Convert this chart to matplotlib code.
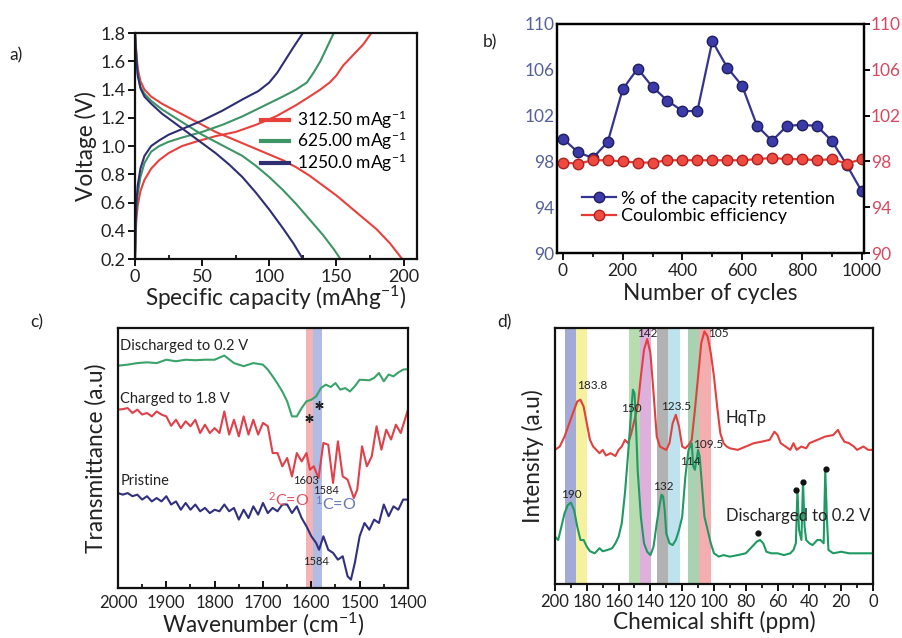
import matplotlib
matplotlib.use("Agg")
import matplotlib.pyplot as plt
import numpy as np

plt.rcParams['font.family'] = ['Lato', 'DejaVu Sans']
plt.rcParams['mathtext.fontset'] = 'custom'
plt.rcParams['mathtext.rm'] = 'Lato'
plt.rcParams['mathtext.it'] = 'Lato:italic'

# ---------------- Panel a data ----------------
rate_labels = ["312.50 mAg$^{-1}$", "625.00 mAg$^{-1}$", "1250.0 mAg$^{-1}$"]
rate_colors = ["#e8413c", "#3d9466", "#2e2e72"]

red_dis_cap = [0, 1, 2, 4, 7, 12, 20, 30, 40, 50, 60, 70, 80, 90, 100, 110, 120, 130, 140, 150, 160, 170, 180, 190, 199]
red_dis_v = [1.8, 1.66, 1.55, 1.46, 1.40, 1.35, 1.30, 1.25, 1.20, 1.15, 1.10, 1.06, 1.02, 0.98, 0.94, 0.90, 0.85, 0.79, 0.72, 0.65, 0.57, 0.49, 0.41, 0.31, 0.2]
red_ch_cap = [0, 0.5, 1, 2, 4, 7, 12, 18, 25, 35, 45, 60, 75, 90, 105, 120, 130, 138, 145, 150, 155, 162, 170, 176]
red_ch_v = [0.2, 0.38, 0.48, 0.58, 0.68, 0.76, 0.84, 0.90, 0.95, 1.00, 1.03, 1.07, 1.10, 1.15, 1.21, 1.29, 1.35, 1.40, 1.45, 1.50, 1.57, 1.64, 1.72, 1.8]

grn_dis_cap = [0, 1, 2, 4, 7, 12, 20, 30, 40, 50, 60, 70, 80, 90, 100, 110, 120, 130, 140, 148, 153]
grn_dis_v = [1.8, 1.64, 1.52, 1.42, 1.37, 1.32, 1.26, 1.20, 1.14, 1.08, 1.03, 0.98, 0.93, 0.86, 0.78, 0.69, 0.59, 0.48, 0.37, 0.27, 0.2]
grn_ch_cap = [0, 0.5, 1, 2, 4, 7, 12, 18, 25, 35, 50, 65, 80, 95, 110, 120, 128, 133, 138, 143, 148]
grn_ch_v = [0.2, 0.42, 0.55, 0.66, 0.78, 0.88, 0.96, 1.00, 1.03, 1.06, 1.10, 1.15, 1.21, 1.28, 1.35, 1.40, 1.45, 1.52, 1.60, 1.70, 1.8]

blu_dis_cap = [0, 1, 2, 4, 7, 12, 20, 30, 40, 50, 60, 70, 80, 90, 100, 110, 118, 125]
blu_dis_v = [1.8, 1.62, 1.50, 1.41, 1.35, 1.30, 1.23, 1.16, 1.09, 1.02, 0.95, 0.87, 0.78, 0.67, 0.55, 0.42, 0.31, 0.2]
blu_ch_cap = [0, 0.5, 1, 2, 4, 7, 12, 18, 25, 35, 50, 65, 80, 92, 100, 106, 112, 118, 125]
blu_ch_v = [0.2, 0.45, 0.60, 0.72, 0.84, 0.93, 1.00, 1.04, 1.08, 1.12, 1.18, 1.25, 1.33, 1.39, 1.45, 1.52, 1.61, 1.70, 1.8]

# ---------------- Panel b data ----------------
cycles = [0, 50, 100, 150, 200, 250, 300, 350, 400, 450, 500, 550, 600, 650, 700, 750, 800, 850, 900, 950, 1000]
retention = [100.0, 98.8, 98.3, 99.7, 104.3, 106.1, 104.5, 103.3, 102.4, 102.4, 108.5, 106.2, 104.6, 101.1, 99.8, 101.1, 101.2, 101.1, 99.8, 97.7, 95.4]
coulombic = [97.9, 97.8, 98.1, 98.1, 98.0, 97.9, 97.9, 98.1, 98.1, 98.1, 98.1, 98.1, 98.1, 98.2, 98.3, 98.2, 98.2, 98.1, 98.2, 97.8, 98.2]
b_ticks = [90, 94, 98, 102, 106, 110]

# ---------------- Panel c data ----------------
ir_green_x = [2000, 1980, 1960, 1940, 1920, 1900, 1880, 1860, 1840, 1820, 1800, 1780, 1760, 1740, 1720, 1700, 1690, 1680, 1670, 1660, 1650, 1640, 1630, 1620, 1610, 1600, 1590, 1580, 1570, 1560, 1550, 1540, 1530, 1520, 1510, 1500, 1480, 1470, 1460, 1450, 1440, 1430, 1420, 1410, 1400]
ir_green_y = [8.55, 8.59, 8.65, 8.68, 8.65, 8.78, 8.72, 8.78, 8.76, 8.78, 8.78, 8.94, 8.65, 8.53, 8.65, 8.59, 8.40, 8.14, 7.86, 7.56, 7.18, 6.60, 6.60, 6.92, 7.18, 7.24, 7.37, 7.69, 7.82, 7.73, 7.88, 7.63, 7.69, 7.56, 7.76, 8.01, 7.99, 8.08, 8.27, 7.95, 8.21, 8.14, 8.29, 8.40, 8.42]

ir_red_x = [2000, 1990, 1980, 1970, 1960, 1950, 1940, 1930, 1920, 1910, 1900, 1890, 1880, 1870, 1860, 1850, 1840, 1830, 1820, 1810, 1800, 1790, 1780, 1770, 1760, 1750, 1740, 1730, 1720, 1710, 1700, 1690, 1680, 1670, 1660, 1650, 1640, 1630, 1620, 1610, 1603, 1595, 1585, 1575, 1565, 1555, 1545, 1535, 1525, 1512, 1505, 1495, 1485, 1475, 1465, 1455, 1445, 1435, 1425, 1415, 1400]
ir_red_y = [6.86, 6.88, 6.92, 6.73, 6.86, 6.67, 6.73, 6.60, 6.79, 6.67, 6.60, 6.24, 6.47, 6.15, 6.41, 6.22, 6.47, 5.96, 6.28, 5.96, 6.15, 5.96, 6.79, 5.90, 6.47, 5.83, 6.60, 5.90, 6.47, 5.90, 6.35, 6.22, 5.19, 5.19, 4.68, 5.00, 4.29, 5.19, 4.87, 5.19, 4.55, 4.68, 4.23, 5.58, 5.51, 4.04, 5.64, 4.29, 4.17, 3.46, 3.78, 5.45, 4.68, 5.06, 6.22, 5.32, 6.09, 5.71, 6.28, 5.96, 6.86]

ir_navy_x = [2000, 1990, 1980, 1970, 1960, 1950, 1940, 1930, 1920, 1910, 1900, 1890, 1880, 1870, 1860, 1850, 1840, 1830, 1820, 1810, 1800, 1790, 1780, 1770, 1760, 1750, 1740, 1730, 1720, 1710, 1700, 1690, 1680, 1670, 1660, 1650, 1640, 1630, 1620, 1610, 1600, 1590, 1584, 1575, 1565, 1555, 1545, 1535, 1525, 1518, 1510, 1500, 1490, 1480, 1470, 1460, 1450, 1440, 1430, 1420, 1410, 1400]
ir_navy_y = [3.65, 3.59, 3.65, 3.53, 3.59, 3.40, 3.53, 3.33, 3.46, 3.33, 3.53, 3.21, 3.33, 3.01, 3.27, 3.01, 3.21, 2.95, 3.08, 2.88, 3.01, 2.95, 3.21, 2.95, 3.08, 2.63, 3.01, 2.69, 3.14, 2.82, 3.27, 2.88, 3.08, 2.95, 3.21, 3.21, 2.88, 3.14, 2.69, 2.37, 1.99, 1.73, 1.47, 1.99, 1.47, 1.35, 1.09, 1.22, 0.45, 0.32, 0.96, 1.99, 2.50, 2.24, 2.63, 2.50, 3.21, 2.76, 3.14, 3.01, 3.40, 3.40]

# ---------------- Panel d data ----------------
nmr_red_x = [200, 197, 194, 191, 188, 186, 184, 182, 180, 178, 176, 174, 172, 170, 168, 165, 162, 160, 158, 156, 154, 152, 150, 148, 146, 144, 142, 140, 138, 136, 134, 132, 130, 128, 126, 124, 122, 120, 118, 116, 114, 112, 110, 108, 106, 104, 102, 100, 98, 96, 94, 92, 90, 85, 80, 75, 70, 65, 62, 60, 58, 55, 52, 50, 48, 45, 42, 40, 35, 30, 25, 22, 20, 18, 15, 12, 10, 6, 3, 0]
nmr_red_y = [5.24, 5.37, 5.76, 6.28, 6.80, 7.13, 7.20, 6.93, 6.28, 5.63, 5.37, 5.24, 5.11, 5.24, 5.02, 5.11, 5.00, 5.24, 5.37, 5.63, 5.50, 5.89, 6.41, 6.93, 8.10, 9.15, 9.57, 9.02, 7.46, 5.76, 5.37, 5.30, 5.24, 5.50, 6.28, 6.61, 6.15, 5.37, 5.30, 5.43, 5.63, 6.80, 8.10, 9.41, 9.87, 9.67, 9.02, 8.10, 6.93, 5.89, 5.50, 5.37, 5.30, 5.24, 5.37, 5.50, 5.56, 5.63, 5.95, 5.82, 5.50, 5.37, 5.24, 5.50, 5.24, 5.37, 5.30, 5.50, 5.63, 5.76, 5.82, 6.02, 5.76, 5.56, 5.50, 5.37, 5.24, 5.37, 5.24, 5.24]

nmr_grn_x = [200, 198, 196, 194, 192, 190, 188, 186, 184, 182, 180, 178, 175, 172, 170, 167, 164, 162, 160, 158, 156, 154, 152, 151, 150, 149, 148, 146, 144, 142, 140, 138, 136, 134, 133, 132, 131, 130, 128, 126, 124, 122, 120, 118, 116, 114, 113, 112, 110, 109, 108, 106, 104, 102, 100, 97, 94, 90, 85, 80, 76, 73, 71, 69, 67, 64, 60, 56, 52, 50, 48.5, 47.5, 46.5, 45, 44, 43, 42, 40, 38, 35, 33, 31, 30, 29, 28, 25, 20, 15, 10, 5, 0]
nmr_grn_y = [1.85, 1.72, 2.24, 2.76, 3.08, 3.18, 2.89, 2.24, 1.72, 1.72, 1.46, 1.28, 1.20, 1.40, 1.28, 1.33, 1.40, 1.59, 1.85, 2.37, 3.55, 5.11, 6.80, 7.59, 7.46, 6.15, 4.46, 2.63, 1.59, 1.26, 1.13, 1.46, 2.37, 3.16, 3.49, 3.42, 2.89, 1.98, 1.59, 1.52, 1.72, 2.11, 2.63, 4.20, 5.24, 5.50, 4.59, 4.46, 5.24, 4.98, 4.20, 2.63, 2.11, 1.59, 1.20, 1.07, 1.13, 1.07, 1.13, 1.20, 1.46, 1.66, 1.72, 1.59, 1.26, 1.20, 1.20, 1.13, 1.20, 1.33, 1.59, 3.68, 2.11, 1.72, 4.00, 2.24, 1.72, 1.59, 1.52, 1.72, 1.72, 1.59, 4.45, 2.63, 1.33, 1.20, 1.26, 1.20, 1.20, 1.20, 1.20]

nmr_bands = [(194, 187, "#a3aad6"), (187, 180, "#f5f19e"), (153.5, 146.5, "#b6dcb0"), (146.5, 139.7, "#deb1dc"),
             (136, 128.8, "#b2b2b2"), (128.8, 121.2, "#bfe3ee"), (116.6, 109.2, "#a9d2b2"), (109.2, 101.9, "#f5aeb0")]

fig = plt.figure(figsize=(9.02, 6.38), dpi=100)
TXT = "#222222"
lab_fs = 16.3

def style(ax, tfs):
    for s in ax.spines.values():
        s.set_linewidth(1.6)
        s.set_color("#111111")
    ax.tick_params(labelsize=tfs, colors="#111111", labelcolor=TXT, width=1.4, length=5, pad=2)
    ax.tick_params(which="minor", width=1.2, length=3)

# ---- a ----
axa = fig.add_axes([0.1497, 0.594, 0.3126, 0.3542])
pairs = [(red_dis_cap, red_dis_v, red_ch_cap, red_ch_v),
         (grn_dis_cap, grn_dis_v, grn_ch_cap, grn_ch_v),
         (blu_dis_cap, blu_dis_v, blu_ch_cap, blu_ch_v)]
for (dc, dv, cc, cv), col, lab in zip(pairs, rate_colors, rate_labels):
    axa.plot(dc, dv, color=col, lw=1.5, label=lab)
    axa.plot(cc, cv, color=col, lw=1.5)
axa.set_xlim(0, 210)
axa.set_ylim(0.2, 1.8)
axa.set_xticks([0, 50, 100, 150, 200])
axa.set_xticks([25, 75, 125, 175], minor=True)
axa.set_yticks(np.arange(0.2, 1.81, 0.2))
axa.yaxis.set_major_formatter(matplotlib.ticker.FormatStrFormatter("%.1f"))
style(axa, 13)
axa.tick_params(axis="x", which="minor", direction="in")
axa.set_xlabel("Specific capacity (mAhg$^{-1}$)", fontsize=lab_fs, labelpad=-1, color=TXT)
axa.set_ylabel("Voltage (V)", fontsize=lab_fs, labelpad=2, color=TXT)
leg = axa.legend(loc="upper right", bbox_to_anchor=(1.005, 0.72), frameon=False, fontsize=12.5,
                 handlelength=1.6, handletextpad=0.45, labelspacing=-0.05, borderpad=0.2)
for l in leg.get_lines():
    l.set_linewidth(3)
fig.text(0.010, 0.905, "a)", fontsize=12.5, color=TXT)

# ---- b ----
axb = fig.add_axes([0.6175, 0.6034, 0.3404, 0.359])
axb.plot(cycles, retention, color="#35358f", lw=1.6, marker="o", ms=7.5, mfc="#3a3aa8", mec="#1f1f60",
         mew=1.0, label="% of the capacity retention")
axb.plot(cycles, coulombic, color="#e63a36", lw=1.6, marker="o", ms=7.5, mfc="#ef4a40", mec="#b02020",
         mew=1.0, label="Coulombic efficiency")
axb.set_xlim(-20, 1008)
axb.set_ylim(90, 110)
axb.set_yticks(b_ticks)
axb.set_xticks([0, 200, 400, 600, 800, 1000])
axb.set_xticks([100, 300, 500, 700, 900], minor=True)
style(axb, 12.5)
axb.tick_params(axis="y", labelcolor="#55609a", length=0)
axr = axb.twinx()
axr.set_ylim(90, 110)
axr.set_yticks(b_ticks)
for s in axr.spines.values():
    s.set_linewidth(1.6)
axr.tick_params(axis="y", labelsize=12.5, labelcolor="#d8485e", width=1.4, length=4, pad=1)
axb.set_xlabel("Number of cycles", fontsize=lab_fs, labelpad=3, color=TXT)
axb.legend(loc="lower left", bbox_to_anchor=(0.04, 0.07), frameon=False, fontsize=13,
           handlelength=1.9, handletextpad=0.25, labelspacing=0.1, borderpad=0.2)
fig.text(0.535, 0.925, "b)", fontsize=12.5, color=TXT)

# ---- c ----
axc = fig.add_axes([0.1308, 0.0784, 0.3215, 0.4075])
axc.axvspan(1610, 1597, color="#f4b4b6", lw=0)
axc.axvspan(1597, 1577, color="#b0bce4", lw=0)
axc.plot(ir_green_x, ir_green_y, color="#3aa36a", lw=1.5)
axc.plot(ir_red_x, ir_red_y, color="#e0404a", lw=1.5)
axc.plot(ir_navy_x, ir_navy_y, color="#30307e", lw=1.5)
axc.set_xlim(2000, 1400)
axc.set_ylim(0, 10)
axc.set_yticks([])
axc.set_xticks([2000, 1900, 1800, 1700, 1600, 1500, 1400])
axc.set_xticks([1950, 1850, 1750, 1650, 1550, 1450], minor=True)
style(axc, 12)
axc.tick_params(axis="x", direction="in", pad=5)
axc.tick_params(axis="x", which="minor", direction="in")
axc.set_xlabel("Wavenumber (cm$^{-1}$)", fontsize=lab_fs, labelpad=0, color=TXT)
axc.set_ylabel("Transmittance (a.u)", fontsize=lab_fs, labelpad=8, color=TXT)
axc.text(1995, 9.3, "Discharged to 0.2 V", fontsize=10.5, color=TXT, va="center")
axc.text(1995, 7.27, "Charged to 1.8 V", fontsize=10.5, color=TXT, va="center")
axc.text(1995, 4.1, "Pristine", fontsize=10.5, color=TXT, va="center")
axc.text(1638, 4.15, "1603", fontsize=8, color=TXT, va="center")
axc.text(1597, 3.75, "1584", fontsize=8, color=TXT, va="center")
axc.text(1617, 1.0, "1584", fontsize=8, color=TXT, va="center")
axc.text(1690, 3.4, "$^2$C=O", fontsize=11.5, color="#e05060", va="center")
axc.text(1592, 3.25, "$^1$C=O", fontsize=11.5, color="#6a78b8", va="center")
star_x = [1604, 1584]
star_y = [6.55, 7.05]
axc.plot(star_x, star_y, ls="none", marker=(6, 2, 0), ms=6, mew=1.0, color="#222222")
fig.text(0.033, 0.487, "c)", fontsize=12.5, color=TXT)

# ---- d ----
axd = fig.add_axes([0.6153, 0.0846, 0.3525, 0.4013])
for x0, x1, c in nmr_bands:
    axd.axvspan(x0, x1, color=c, lw=0)
axd.plot(nmr_red_x, nmr_red_y, color="#e2403e", lw=1.5)
axd.plot(nmr_grn_x, nmr_grn_y, color="#1f9a64", lw=1.5)
axd.set_xlim(200, 0)
axd.set_ylim(0, 10)
axd.set_yticks([])
axd.set_xticks(np.arange(200, -1, -20))
axd.set_xticks(np.arange(190, 0, -20), minor=True)
style(axd, 12)
axd.set_xlabel("Chemical shift (ppm)", fontsize=lab_fs, labelpad=1, color=TXT)
axd.set_ylabel("Intensity (a.u)", fontsize=lab_fs, labelpad=8, color=TXT)
ann = [(186, 7.75, "183.8", "left"), (142, 9.8, "142", "center"), (103.5, 9.8, "105", "left"),
       (152, 6.85, "150", "center"), (124, 6.95, "123.5", "center"), (113, 5.45, "109.5", "left"),
       (115, 4.8, "114", "center"), (132, 3.8, "132", "center"), (190, 3.5, "190", "center")]
for x, y, t, ha in ann:
    axd.text(x, y, t, fontsize=8.5, color=TXT, ha=ha, va="center")
axd.text(92.5, 6.5, "HqTp", fontsize=12, color=TXT, va="center")
axd.text(92.5, 2.65, "Discharged to 0.2 V", fontsize=12, color=TXT, va="center")
dots_x = [72, 48.3, 43.7, 29.4]
dots_y = [1.98, 3.68, 3.97, 4.5]
axd.plot(dots_x, dots_y, "o", color="#111111", ms=3.5, ls="none")
fig.text(0.551, 0.487, "d)", fontsize=12.5, color=TXT)

fig.savefig("out.png", dpi=100)
